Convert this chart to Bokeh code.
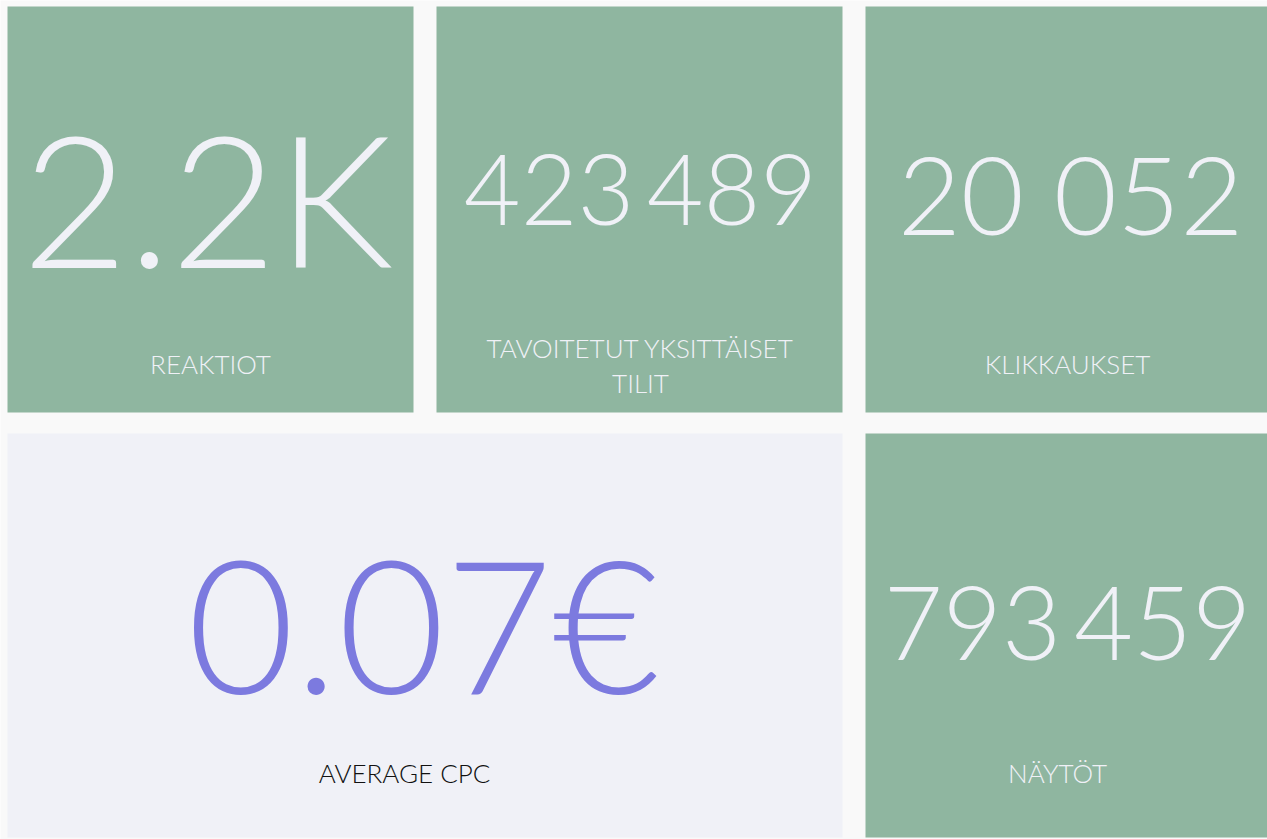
from bokeh.plotting import figure
from bokeh.models import Range1d, ColumnDataSource
from bokeh.core.properties import value
from bokeh.embed import file_html
from bokeh.resources import INLINE

# ---- data ----
kpi_values = ["2.2K", "423\u2009489", "20 052", "0.07€", "793\u2009459"]
kpi_labels = ["REAKTIOT", "TAVOITETUT YKSITTÄISET\nTILIT", "KLIKKAUKSET", "AVERAGE CPC", "NÄYTÖT"]

# ---- layout (page pixel coordinates) ----
tile_left = [7, 436, 865, 7, 865]
tile_right = [413, 842, 1267, 842, 1267]
tile_top = [6, 6, 6, 433, 433]
tile_bottom = [412, 412, 412, 837, 837]
tile_fill = ["#8fb6a0", "#8fb6a0", "#8fb6a0", "#f0f1f7", "#8fb6a0"]
value_color = ["#f0f1f7", "#f0f1f7", "#f0f1f7", "#7c7adf", "#f0f1f7"]
label_color = ["#f0f1f7", "#f0f1f7", "#f0f1f7", "#111111", "#f0f1f7"]
value_x = [207, 640, 1070, 423, 1067]
value_mid = [196, 186, 192, 621, 620]
value_size = ["183px", "98px", "109px", "185px", "102px"]
label_x = [210, 640, 1067, 404, 1057]
label_mid = [363, 365, 363, 772, 772]

W, H = 1267, 839
p = figure(width=W, height=H, output_backend="svg", toolbar_location=None,
           x_range=Range1d(0, W), y_range=Range1d(H, 0),
           x_axis_location=None, y_axis_location=None, min_border=0,
           background_fill_color="#f9f9f9", border_fill_color="#f9f9f9",
           outline_line_color=None)
p.grid.visible = False

tiles = ColumnDataSource(dict(left=tile_left, right=tile_right, top=tile_top,
                              bottom=tile_bottom, fill=tile_fill))
p.quad(left="left", right="right", top="top", bottom="bottom", fill_color="fill",
       line_color=None, source=tiles)

vals = ColumnDataSource(dict(x=value_x, y=value_mid, text=kpi_values,
                             color=value_color, size=value_size))
p.text(x="x", y="y", text="text", text_color="color", text_font_size="size",
       text_font=value("'Lato Light', Lato"), text_align="center",
       text_baseline="middle", source=vals)

labs = ColumnDataSource(dict(x=label_x, y=label_mid, text=kpi_labels, color=label_color))
p.text(x="x", y="y", text="text", text_color="color", text_font_size="26px",
       text_font=value("'Lato Light', Lato"), text_align="center", text_baseline="middle",
       text_line_height=1.1, source=labs)

open("out.html", "w").write(file_html(p, INLINE))
